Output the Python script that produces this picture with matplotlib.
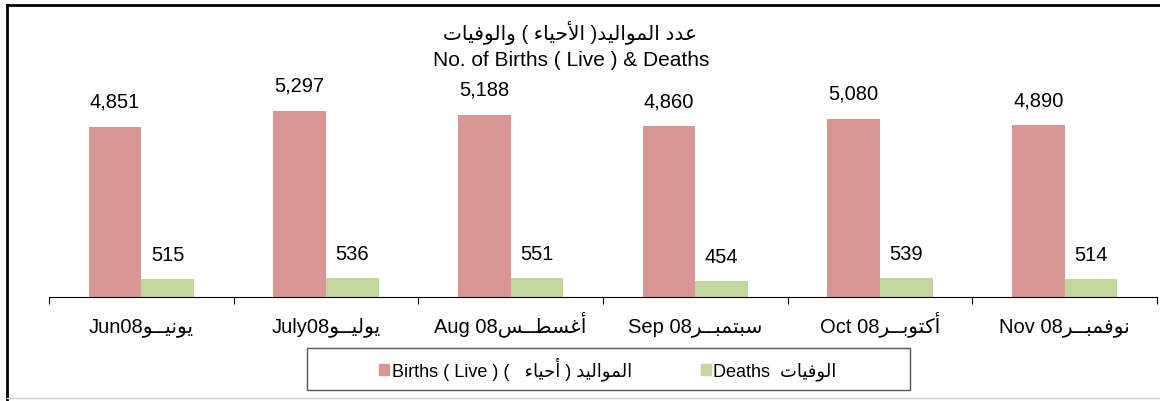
import matplotlib
matplotlib.use("Agg")
import numpy as np
from matplotlib import pyplot as plt
from matplotlib.patches import Rectangle, Patch
from matplotlib.lines import Line2D

months_en = ["Jun08", "July08", "Aug 08", "Sep 08", "Oct 08", "Nov 08"]
months_ar = ["يونيــو", "يوليــو", "أغسطــس", "سبتمبــر", "أكتوبــر", "نوفمبــر"]
births = [4851, 5297, 5188, 4860, 5080, 4890]
deaths = [515, 536, 551, 454, 539, 514]

title_ar = "عدد المواليد( الأحياء ) والوفيات"
title_en = "No. of Births ( Live ) & Deaths"
legend_en = ["Births ( Live ) ", "Deaths  "]
legend_ar = ["المواليد ( أحياء   )", "الوفيات"]

BIRTH_COLOR = "#D99694"
DEATH_COLOR = "#C3D69B"

# presentation forms: isolated, final, initial, medial
FORMS = {
    "\u0621": ("\uFE80",),
    "\u0623": ("\uFE83", "\uFE84"),
    "\u0627": ("\uFE8D", "\uFE8E"),
    "\u0628": ("\uFE8F", "\uFE90", "\uFE91", "\uFE92"),
    "\u062A": ("\uFE95", "\uFE96", "\uFE97", "\uFE98"),
    "\u062D": ("\uFEA1", "\uFEA2", "\uFEA3", "\uFEA4"),
    "\u062F": ("\uFEA9", "\uFEAA"),
    "\u0631": ("\uFEAD", "\uFEAE"),
    "\u0633": ("\uFEB1", "\uFEB2", "\uFEB3", "\uFEB4"),
    "\u0637": ("\uFEC1", "\uFEC2", "\uFEC3", "\uFEC4"),
    "\u0639": ("\uFEC9", "\uFECA", "\uFECB", "\uFECC"),
    "\u063A": ("\uFECD", "\uFECE", "\uFECF", "\uFED0"),
    "\u0641": ("\uFED1", "\uFED2", "\uFED3", "\uFED4"),
    "\u0643": ("\uFED9", "\uFEDA", "\uFEDB", "\uFEDC"),
    "\u0644": ("\uFEDD", "\uFEDE", "\uFEDF", "\uFEE0"),
    "\u0645": ("\uFEE1", "\uFEE2", "\uFEE3", "\uFEE4"),
    "\u0646": ("\uFEE5", "\uFEE6", "\uFEE7", "\uFEE8"),
    "\u0648": ("\uFEED", "\uFEEE"),
    "\u064A": ("\uFEF1", "\uFEF2", "\uFEF3", "\uFEF4"),
    "\u0640": ("\u0640",) * 4,
    "\u0644\u0627": ("\uFEFB", "\uFEFC"),
    "\u0644\u0623": ("\uFEF7", "\uFEF8"),
}
MIRROR = {"(": ")", ")": "("}


def ar(text):
    # minimal arabic shaping + reversal to visual order
    chars = []
    i = 0
    while i < len(text):
        if text[i] == "\u0644" and i + 1 < len(text) and text[i + 1] in "\u0627\u0623":
            chars.append(text[i:i + 2])
            i += 2
        else:
            chars.append(text[i])
            i += 1
    out = []
    for i, c in enumerate(chars):
        f = FORMS.get(c)
        if f is None:
            out.append(MIRROR.get(c, c))
            continue
        prev = FORMS.get(chars[i - 1]) if i > 0 else None
        nxt = FORMS.get(chars[i + 1]) if i + 1 < len(chars) else None
        join_prev = prev is not None and len(prev) == 4 and len(f) > 1
        join_next = len(f) == 4 and nxt is not None and len(nxt) > 1
        if join_prev and join_next:
            out.append(f[3])
        elif join_prev:
            out.append(f[1])
        elif join_next:
            out.append(f[2])
        else:
            out.append(f[0])
    return "".join(reversed(out))


FONT = ["Liberation Sans", "DejaVu Sans"]
plt.rcParams["font.family"] = FONT

W, H = 1160, 401
fig = plt.figure(figsize=(W / 100, H / 100), dpi=100)

# outer frame
fig.add_artist(Line2D([7 / W, 7 / W], [0, 1 - 5 / H], color="black", lw=2))
fig.add_artist(Line2D([7 / W, 1], [1 - 5 / H, 1 - 5 / H], color="black", lw=2))
fig.add_artist(Line2D([7 / W, 1], [1 - 398 / H, 1 - 398 / H], color="#d0d0d0", lw=1))

ax_h = 245.7
ax = fig.add_axes([49 / W, 1 - 297 / H, (1157 - 49) / W, ax_h / H])
x = np.arange(len(births))
w = 0.285
ax.bar(x - w / 2, births, w, color=BIRTH_COLOR)
ax.bar(x + w / 2, deaths, w, color=DEATH_COLOR)

for xi, b, d in zip(x, births, deaths):
    ax.annotate(f"{b:,}", (xi - w / 2, b), xytext=(0, 11), textcoords="offset points",
                ha="center", va="bottom", fontsize=14.5)
    ax.annotate(f"{d:,}", (xi + w / 2, d), xytext=(0, 10), textcoords="offset points",
                ha="center", va="bottom", fontsize=14.5)

ax.set_xlim(-0.5, len(births) - 0.5)
ax.set_ylim(0, 7000)
for s in ["left", "right", "top"]:
    ax.spines[s].set_visible(False)
ax.spines["bottom"].set_linewidth(0.8)
ax.set_yticks([])
ax.set_xticks([])
ax.set_xticks(np.arange(-0.5, len(births)), minor=True)
ax.tick_params(axis="x", which="minor", length=5, width=0.8, direction="out")

# category labels on a common baseline
for xi, en, a in zip(x, months_en, months_ar):
    ax.text(xi, -35 / ax_h, en + ar(a), transform=ax.get_xaxis_transform(),
            ha="center", va="baseline", fontsize=14.5)

fig.text(570 / W, 1 - 33 / H, ar(title_ar), ha="center", va="center", fontsize=14.5)
fig.text(571 / W, 1 - 60 / H, title_en, ha="center", va="center", fontsize=15)

# legend box
fig.add_artist(Rectangle((307 / W, 1 - 390 / H), 603 / W, 42 / H, transform=fig.transFigure,
                         fill=False, edgecolor="#555555", lw=1))
handles = [Patch(color=BIRTH_COLOR), Patch(color=DEATH_COLOR)]
labels = [legend_en[0] + ar(legend_ar[0]), legend_en[1] + ar(legend_ar[1])]
fig.legend(handles, labels, loc="center", bbox_to_anchor=(608 / W, 1 - 369 / H), ncol=2,
           frameon=False, fontsize=13, handlelength=0.55, handleheight=0.55,
           handletextpad=0.15, columnspacing=3.8)

fig.savefig("out.png", dpi=100)
